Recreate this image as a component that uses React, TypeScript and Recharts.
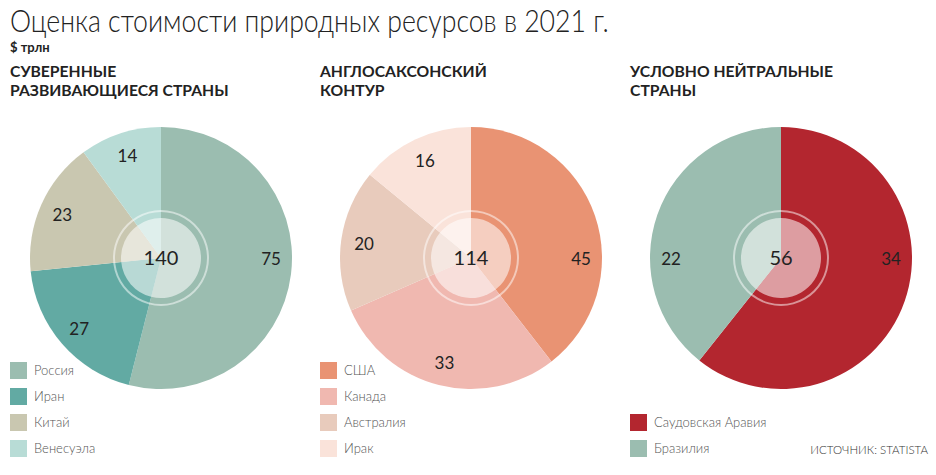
import React from "react";
import { PieChart, Pie, Cell, Label } from "recharts";

// values, $ trln
const sovereignNames = ["Россия", "Иран", "Китай", "Венесуэла"];
const sovereignValues = [75, 27, 23, 14];
const sovereignTotal = "140";

const angloNames = ["США", "Канада", "Австралия", "Ирак"];
const angloValues = [45, 33, 20, 16];
const angloTotal = "114";

const neutralNames = ["Саудовская Аравия", "Бразилия"];
const neutralValues = [34, 22];
const neutralTotal = "56";

const sovereignColors = ["#9bbdb0", "#62aaa3", "#c9c7b0", "#b8dcd6"];
const angloColors = ["#e99373", "#f0b8b0", "#e8cbbc", "#fae3da"];
const neutralColors = ["#b3262f", "#9bbdb0"];

const FONT = "Lato, 'Open Sans', sans-serif";
const RAD = Math.PI / 180;

// big slices get their number put on the horizontal, like the original
const inside = (a: number, start: number, end: number) => {
  for (const k of [-360, 0, 360]) {
    if (a + k <= start && a + k >= end) return true;
  }
  return false;
};

const renderValue = (props: any) => {
  const { cx, cy, midAngle, startAngle, endAngle, value } = props;
  let angle = midAngle;
  let r = 108;
  if (Math.abs(startAngle - endAngle) > 120) {
    if (inside(0, startAngle, endAngle)) angle = 0;
    else if (inside(180, startAngle, endAngle)) angle = 180;
    r = 110;
  }
  const x = cx + r * Math.cos(-angle * RAD);
  const y = cy + r * Math.sin(-angle * RAD);
  return (
    <text
      x={x}
      y={y}
      textAnchor="middle"
      dominantBaseline="central"
      fill="#222"
      fontSize={17}
      fontFamily={FONT}
    >
      {value}
    </text>
  );
};

type PieBlockProps = {
  left: number;
  title: string[];
  names: string[];
  values: number[];
  colors: string[];
  total: string;
  legendTop: number;
};

const PieBlock: React.FC<PieBlockProps> = ({ left, title, names, values, colors, total, legendTop }) => {
  const data = names.map((name, i) => ({ name, value: values[i] }));
  return (
    <>
      <div
        style={{
          position: "absolute",
          left,
          top: 62,
          fontFamily: FONT,
          fontWeight: 700,
          fontSize: 15.7,
          lineHeight: "19px",
          color: "#222",
          whiteSpace: "nowrap",
        }}
      >
        {title.map((t) => (
          <div key={t}>{t}</div>
        ))}
      </div>
      <div style={{ position: "absolute", left: left + 1, top: 108 }}>
        <PieChart width={300} height={300} margin={{ top: 0, right: 0, bottom: 0, left: 0 }}>
          <Pie
            data={data}
            dataKey="value"
            cx={150}
            cy={150}
            outerRadius={131}
            startAngle={90}
            endAngle={-270}
            stroke="none"
            label={renderValue}
            labelLine={false}
            isAnimationActive={false}
          >
            {data.map((d, i) => (
              <Cell key={d.name} fill={colors[i]} />
            ))}
          </Pie>
          <Pie
            data={data}
            dataKey="value"
            cx={150}
            cy={150}
            outerRadius={40}
            startAngle={90}
            endAngle={-270}
            stroke="none"
            fill="#ffffff"
            fillOpacity={0.55}
            isAnimationActive={false}
          >
            <Label
              value={total}
              position="center"
              fill="#222"
              fontSize={20}
              fontFamily={FONT}
            />
          </Pie>
          <Pie
            data={[{ name: "ring", value: 1 }]}
            dataKey="value"
            cx={150}
            cy={150}
            innerRadius={46}
            outerRadius={48}
            stroke="none"
            fill="#ffffff"
            fillOpacity={0.5}
            isAnimationActive={false}
          />
        </PieChart>
      </div>
      <div style={{ position: "absolute", left, top: legendTop, fontFamily: FONT, fontSize: 13, color: "#555" }}>
        {data.map((d, i) => (
          <div key={d.name} style={{ display: "flex", alignItems: "center", height: 26 }}>
            <span style={{ width: 17, height: 17, background: colors[i], marginRight: 7, display: "inline-block" }} />
            <span style={{ fontWeight: 300 }}>{d.name}</span>
          </div>
        ))}
      </div>
    </>
  );
};

export default function App() {
  return (
    <div
      style={{
        position: "absolute",
        left: 0,
        top: 0,
        width: 936,
        height: 475,
        background: "#fff",
        overflow: "hidden",
      }}
    >
      <div
        style={{
          position: "absolute",
          left: 10,
          top: 6,
          fontFamily: FONT,
          fontWeight: 300,
          fontSize: 31,
          lineHeight: "29px",
          color: "#222",
          whiteSpace: "nowrap",
          transform: "scaleX(0.86)",
          transformOrigin: "left top",
        }}
      >
        Оценка стоимости природных ресурсов в 2021 г.
      </div>
      <div
        style={{
          position: "absolute",
          left: 10,
          top: 40,
          fontFamily: FONT,
          fontWeight: 700,
          fontSize: 13,
          lineHeight: "14px",
          color: "#222",
        }}
      >
        $ трлн
      </div>
      <PieBlock
        left={10}
        title={["СУВЕРЕННЫЕ", "РАЗВИВАЮЩИЕСЯ СТРАНЫ"]}
        names={sovereignNames}
        values={sovereignValues}
        colors={sovereignColors}
        total={sovereignTotal}
        legendTop={357}
      />
      <PieBlock
        left={320}
        title={["АНГЛОСАКСОНСКИЙ", "КОНТУР"]}
        names={angloNames}
        values={angloValues}
        colors={angloColors}
        total={angloTotal}
        legendTop={357}
      />
      <PieBlock
        left={630}
        title={["УСЛОВНО НЕЙТРАЛЬНЫЕ", "СТРАНЫ"]}
        names={neutralNames}
        values={neutralValues}
        colors={neutralColors}
        total={neutralTotal}
        legendTop={409}
      />
      <div
        style={{
          position: "absolute",
          right: 8,
          top: 443,
          fontFamily: FONT,
          fontWeight: 300,
          fontSize: 11.5,
          color: "#333",
        }}
      >
        ИСТОЧНИК: STATISTA
      </div>
    </div>
  );
}
